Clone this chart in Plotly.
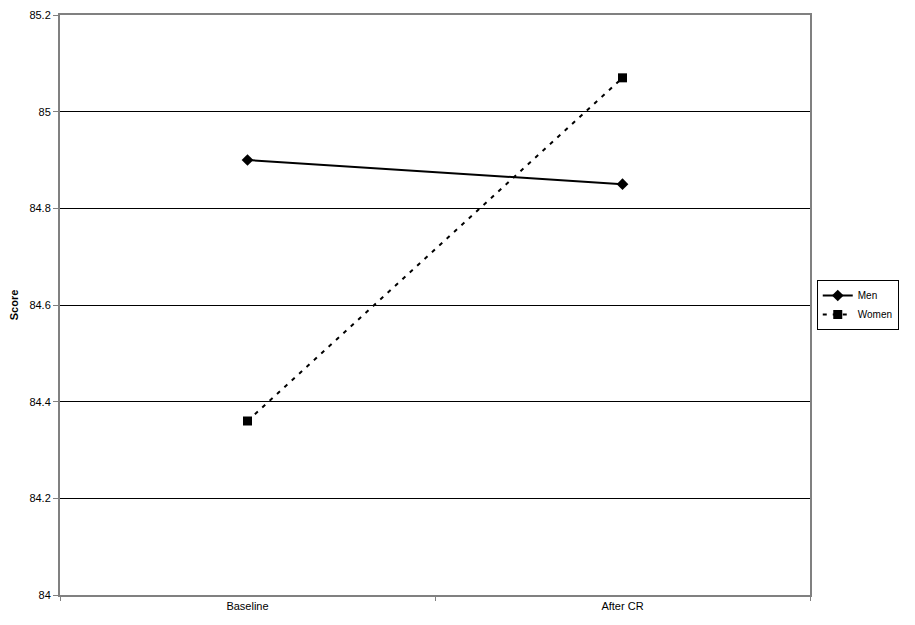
import plotly.graph_objects as go

# data
timepoints = ["Baseline", "After CR"]
men_scores = [84.90, 84.85]
women_scores = [84.36, 85.07]
y_ticks = [84, 84.2, 84.4, 84.6, 84.8, 85, 85.2]
y_tick_labels = ["84", "84.2", "84.4", "84.6", "84.8", "85", "85.2"]

fig = go.Figure()

fig.add_trace(go.Scatter(
    x=timepoints, y=men_scores, name="Men",
    mode="lines+markers",
    line=dict(color="black", width=2),
    marker=dict(symbol="diamond", size=9, color="black"),
))

fig.add_trace(go.Scatter(
    x=timepoints, y=women_scores, name="Women",
    mode="lines+markers",
    line=dict(color="black", width=2, dash="4px,6px"),
    marker=dict(symbol="square", size=9, color="black"),
))

fig.update_xaxes(
    type="category",
    range=[-0.5, 1.5],
    tickson="boundaries",
    ticks="outside",
    ticklen=4,
    tickcolor="#808080",
    showline=True,
    linecolor="#808080",
    linewidth=2,
    mirror=True,
    showgrid=False,
    tickfont=dict(family="Liberation Sans, Arial", size=11, color="black"),
)

fig.update_yaxes(
    range=[84, 85.2],
    tickvals=y_ticks,
    ticktext=y_tick_labels,
    ticklabeloverflow="allow",
    ticks="outside",
    ticklen=5,
    tickcolor="#808080",
    showline=True,
    linecolor="#808080",
    linewidth=2,
    mirror=True,
    showgrid=True,
    gridcolor="black",
    gridwidth=1,
    zeroline=False,
    title=dict(text="<b>Score</b>", standoff=14,
               font=dict(family="Liberation Sans, Arial", size=11, color="black")),
    tickfont=dict(family="Liberation Sans, Arial", size=11, color="black"),
)

# the page puts the figure 8px in from the corner, so size and margins allow for it
fig.update_layout(
    width=907,
    height=617,
    margin=dict(l=52, r=105, t=7, b=30, autoexpand=False),
    plot_bgcolor="white",
    paper_bgcolor="white",
    showlegend=True,
    legend=dict(
        x=1.009, y=0.5, xanchor="left", yanchor="middle",
        bordercolor="black", borderwidth=1,
        font=dict(family="Liberation Sans, Arial", size=10, color="black"),
        tracegroupgap=0, itemwidth=30,
    ),
)

fig.write_html("out.html")
